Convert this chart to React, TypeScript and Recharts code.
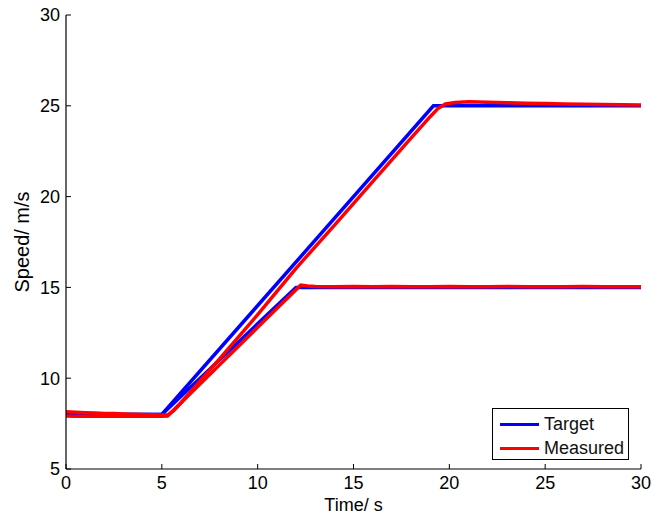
import React from 'react';
import { LineChart, Line, XAxis, YAxis, Legend } from 'recharts';

const xTicks = [0, 5, 10, 15, 20, 25, 30];
const yTicks = [5, 10, 15, 20, 25, 30];

const target1Time = [0, 5, 19.17, 30];
const target1Speed = [8, 8, 25, 25];

const target2Time = [0, 5, 12, 30];
const target2Speed = [8, 8, 15, 15];

const measured1Time = [0, 0.5, 1, 1.5, 2, 2.5, 3, 3.5, 4, 4.5, 5, 5.3, 5.6, 6, 7, 8, 10, 12, 14, 16, 18, 19, 19.4, 19.8, 20.3, 21, 22, 23, 24, 25, 26, 27, 28, 29, 30];
const measured1Speed = [8.15, 8.13, 8.1, 8.08, 8.06, 8.05, 8.03, 8.02, 8.0, 7.99, 7.97, 7.97, 8.2, 8.65, 9.85, 11.05, 13.5, 16.05, 18.42, 20.82, 23.22, 24.4, 24.85, 25.1, 25.18, 25.22, 25.2, 25.17, 25.14, 25.12, 25.1, 25.08, 25.07, 25.06, 25.05];

const measured2Time = [0, 0.5, 1, 1.5, 2, 2.5, 3, 3.5, 4, 4.5, 5, 5.3, 6, 8, 10, 12, 12.25, 12.6, 13, 14, 15, 16, 17, 18, 19, 20, 21, 22, 23, 24, 25, 26, 27, 28, 29, 30];
const measured2Speed = [7.92, 7.9, 7.9, 7.92, 7.9, 7.9, 7.91, 7.9, 7.9, 7.9, 7.9, 7.92, 8.65, 10.72, 12.8, 14.87, 15.13, 15.08, 15.05, 15.04, 15.05, 15.03, 15.05, 15.04, 15.03, 15.05, 15.04, 15.03, 15.05, 15.04, 15.03, 15.04, 15.05, 15.04, 15.03, 15.03];

const toRows = (t: number[], v: number[]) => t.map((x, i) => ({ t: x, v: v[i] }));

const target1 = toRows(target1Time, target1Speed);
const target2 = toRows(target2Time, target2Speed);
const measured1 = toRows(measured1Time, measured1Speed);
const measured2 = toRows(measured2Time, measured2Speed);

const FONT = 'Arial, "Liberation Sans", Helvetica, sans-serif';
const tickStyle = { fontSize: 18, fill: '#000', fontFamily: FONT };

const legendItems = [
  { label: 'Target', color: '#0000ff' },
  { label: 'Measured', color: '#ff0000' },
];

const LegendBox = () => (
  <div
    style={{
      width: 135,
      height: 50,
      border: '1px solid #000',
      background: '#fff',
      fontFamily: FONT,
      fontSize: 18,
      color: '#111',
      boxSizing: 'content-box',
    }}
  >
    {legendItems.map((it) => (
      <div key={it.label} style={{ display: 'flex', alignItems: 'center', height: 24, marginTop: it.label === 'Target' ? 3 : 0 }}>
        <div style={{ width: 39, height: 3, background: it.color, marginLeft: 7, marginRight: 5 }} />
        <span style={{ lineHeight: '24px' }}>{it.label}</span>
      </div>
    ))}
  </div>
);

export default function App() {
  return (
    <div style={{ position: 'absolute', left: 0, top: 0, width: 661, height: 515, background: '#fff' }}>
      <LineChart width={661} height={515} margin={{ top: 15, right: 20, left: 0, bottom: 0 }}>
        <XAxis
          dataKey="t"
          type="number"
          domain={[0, 30]}
          ticks={xTicks}
          height={46}
          tickSize={-5}
          tickMargin={12}
          tick={tickStyle}
          stroke="#000"
          axisLine={{ stroke: '#000', strokeWidth: 1.2 }}
          tickLine={{ stroke: '#000' }}
          allowDataOverflow
          label={{
            content: ({ viewBox }: any) => (
              <text
                x={viewBox.x + viewBox.width / 2}
                y={510.5}
                textAnchor="middle"
                fontSize={18}
                fontFamily={FONT}
                fill="#000"
              >
                Time/ s
              </text>
            ),
          }}
        />
        <XAxis
          xAxisId="top"
          orientation="top"
          dataKey="t"
          type="number"
          domain={[0, 30]}
          ticks={xTicks}
          height={0}
          tickSize={-5}
          tick={false}
          axisLine={{ stroke: '#000', strokeWidth: 1.2 }}
          tickLine={{ stroke: '#000' }}
        />
        <YAxis
          type="number"
          domain={[5, 30]}
          ticks={yTicks}
          width={66}
          tickSize={-5}
          tickMargin={11}
          tick={tickStyle}
          axisLine={{ stroke: '#000', strokeWidth: 1.2 }}
          tickLine={{ stroke: '#000' }}
          allowDataOverflow
          label={{
            content: ({ viewBox }: any) => {
              const cx = viewBox.x + 29;
              const cy = viewBox.y + viewBox.height / 2;
              return (
                <text
                  x={cx}
                  y={cy}
                  textAnchor="middle"
                  fontSize={20}
                  fontFamily={FONT}
                  fill="#000"
                  transform={`rotate(-90 ${cx} ${cy})`}
                >
                  Speed/ m/s
                </text>
              );
            },
          }}
        />
        <YAxis
          yAxisId="right"
          orientation="right"
          type="number"
          domain={[5, 30]}
          ticks={yTicks}
          width={0}
          tickSize={-5}
          tick={false}
          axisLine={{ stroke: '#000', strokeWidth: 1.2 }}
          tickLine={{ stroke: '#000' }}
        />
        <Line data={target1} dataKey="v" type="linear" stroke="#0000ff" strokeWidth={3.5} dot={false} isAnimationActive={false} name="Target" />
        <Line data={target2} dataKey="v" type="linear" stroke="#0000ff" strokeWidth={3.5} dot={false} isAnimationActive={false} legendType="none" />
        <Line data={measured1} dataKey="v" type="linear" stroke="#ff0000" strokeWidth={3.5} dot={false} isAnimationActive={false} name="Measured" />
        <Line data={measured2} dataKey="v" type="linear" stroke="#ff0000" strokeWidth={3.5} dot={false} isAnimationActive={false} legendType="none" />
        <Legend
          layout="vertical"
          align="center"
          verticalAlign="middle"
          content={() => <LegendBox />}
          wrapperStyle={{ position: 'absolute', left: 492, top: 408, width: 137, height: 52, margin: 0 }}
        />
      </LineChart>
    </div>
  );
}
